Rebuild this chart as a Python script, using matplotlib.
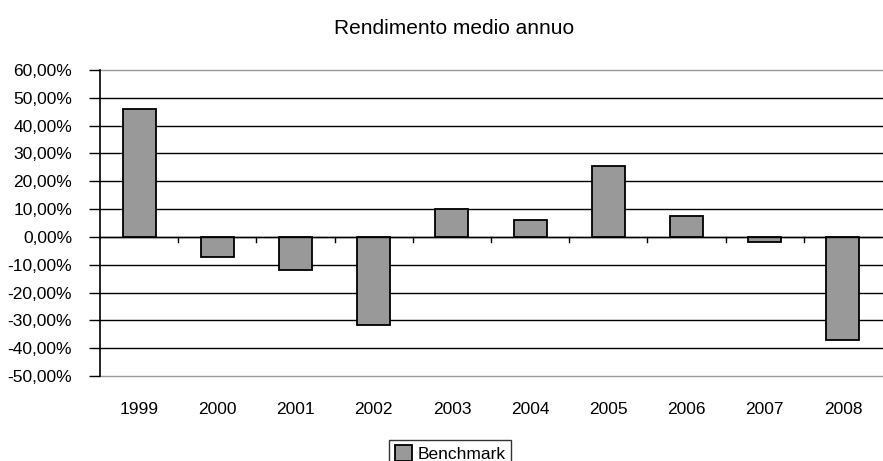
import matplotlib.pyplot as plt
import numpy as np

plt.rcParams['font.family'] = ['Liberation Sans', 'DejaVu Sans']

anni = ['1999', '2000', '2001', '2002', '2003', '2004', '2005', '2006', '2007', '2008']
benchmark = [46.0, -7.2, -11.8, -31.7, 10.2, 6.0, 25.6, 7.4, -1.9, -36.9]
y_ticks = [60, 50, 40, 30, 20, 10, 0, -10, -20, -30, -40, -50]


def fmt(v):
    return "{:.2f}%".format(v).replace('.', ',')


fig = plt.figure(figsize=(8.83, 4.61), dpi=100)
ax = fig.add_axes([100 / 883, 1 - 376 / 461, 782 / 883, 306 / 461])

x = np.arange(len(anni))
ax.bar(x, benchmark, width=0.42, color='#999999', edgecolor='black', linewidth=1.3,
       label='Benchmark', zorder=3)

ax.set_xlim(-0.5, len(anni) - 0.5)
ax.set_ylim(-50, 60)
ax.set_yticks(y_ticks)
ax.set_yticklabels([fmt(v) for v in y_ticks], fontsize=12.5)
for v in y_ticks:
    c = '#999999' if v in (60, -50) else 'black'
    ax.axhline(v, color=c, linewidth=1, zorder=1, clip_on=False)
ax.axhline(0, color='black', linewidth=1, zorder=4)

ax.set_xticks(x)
ax.set_xticklabels(anni, fontsize=12.5)
ax.tick_params(axis='x', length=0, pad=19)
ax.tick_params(axis='y', length=8, width=1, direction='out', pad=12)

# tacche tra le categorie sulla linea dello zero
for xb in x[:-1] + 0.5:
    ax.plot([xb, xb], [0, -1.8], color='black', linewidth=1, zorder=4)

for s in ['top', 'right', 'bottom']:
    ax.spines[s].set_visible(False)
ax.spines['left'].set_linewidth(1.2)
ax.spines['left'].set_zorder(5)

fig.text(454 / 883, 1 - 28 / 461, 'Rendimento medio annuo', ha='center', va='center', fontsize=15)

leg = ax.legend(loc='upper center', bbox_to_anchor=(0.4476, -0.21),
                frameon=True, fancybox=False, edgecolor='black', fontsize=12.5,
                handlelength=1, handleheight=1, handletextpad=0.3, borderpad=0.3,
                borderaxespad=0)
leg.get_frame().set_linewidth(1)

fig.savefig('out.png', dpi=100)
